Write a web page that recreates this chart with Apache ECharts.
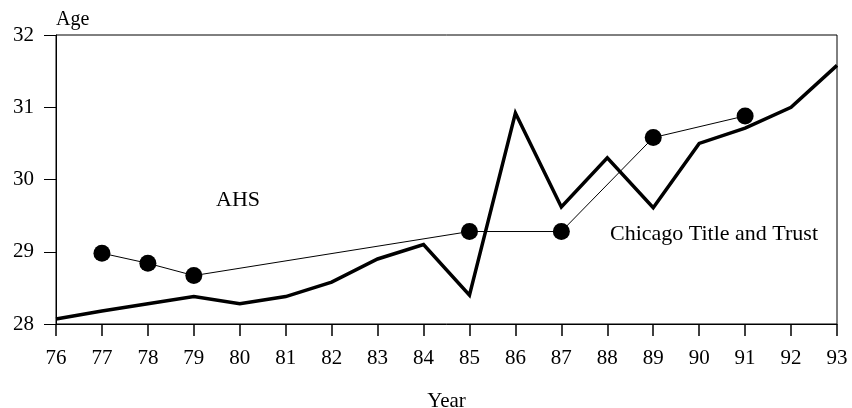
<!DOCTYPE html>
<html>
<head>
<meta charset="utf-8">
<script src="https://cdn.jsdelivr.net/npm/echarts@6/dist/echarts.min.js"></script>
<style>
  html, body { margin: 0; padding: 0; background: #fff; }
  #container1 { width: 852px; height: 408px; }
</style>
</head>
<body>
<div id="container1"></div>
<script>
// Chicago Title and Trust (annual, thick line)
var ctYears = [76, 77, 78, 79, 80, 81, 82, 83, 84, 85, 86, 87, 88, 89, 90, 91, 92, 93];
var ctAges = [28.07, 28.18, 28.28, 28.38, 28.28, 28.38, 28.58, 28.9, 29.1, 28.4, 30.92, 29.62, 30.3, 29.61, 30.5, 30.71, 31.0, 31.58];

// AHS (survey years, dots)
var ahsYears = [77, 78, 79, 85, 87, 89, 91];
var ahsAges = [28.98, 28.84, 28.67, 29.28, 29.28, 30.58, 30.88];

var yTicks = [28, 29, 30, 31, 32];

function pairs(xs, ys) {
    return xs.map(function (x, i) { return [x, ys[i]]; });
}

var serif = '"Liberation Serif", "DejaVu Serif", serif';

var dom = document.getElementById("container1");
var myChart = echarts.init(dom);
var option = {
    animation: false,
    backgroundColor: '#fff',
    textStyle: { fontFamily: serif, color: '#000' },
    grid: {
        left: 56,
        right: 15,
        top: 35,
        bottom: 84,
        outerBoundsMode: 'none',
        containLabel: false,
        show: true,
        borderColor: '#000',
        borderWidth: 1
    },
    xAxis: {
        type: 'value',
        min: 76,
        max: 93,
        interval: 1,
        name: 'Year',
        nameLocation: 'middle',
        nameGap: 67,
        nameTextStyle: { fontFamily: serif, fontSize: 21, color: '#000' },
        axisLine: { show: true, lineStyle: { color: '#000', width: 1 } },
        axisTick: { show: true, inside: false, length: 12, lineStyle: { color: '#000', width: 1.5 } },
        axisLabel: { margin: 24, fontFamily: serif, fontSize: 21, color: '#000' },
        splitLine: { show: false }
    },
    yAxis: {
        type: 'value',
        min: yTicks[0],
        max: yTicks[yTicks.length - 1],
        interval: 1,
        name: 'Age',
        nameLocation: 'end',
        nameGap: 5,
        nameTextStyle: { fontFamily: serif, fontSize: 20, color: '#000', align: 'left' },
        axisLine: { show: true, lineStyle: { color: '#000', width: 1 } },
        axisTick: { show: true, inside: false, length: 12, lineStyle: { color: '#000', width: 1 } },
        axisLabel: { margin: 22, fontFamily: serif, fontSize: 21, color: '#000' },
        splitLine: { show: false }
    },
    graphic: [
        {
            type: 'text',
            left: 216,
            top: 189,
            style: { text: 'AHS', font: '22px ' + serif, fill: '#000' }
        },
        {
            type: 'text',
            left: 610,
            top: 223,
            style: { text: 'Chicago Title and Trust', font: '22px ' + serif, fill: '#000' }
        }
    ],
    series: [
        {
            name: 'Chicago Title and Trust',
            type: 'line',
            data: pairs(ctYears, ctAges),
            showSymbol: false,
            symbol: 'none',
            lineStyle: { color: '#000', width: 3.5, join: 'miter' },
            z: 3
        },
        {
            name: 'AHS',
            type: 'line',
            data: pairs(ahsYears, ahsAges),
            symbol: 'circle',
            symbolSize: 17,
            itemStyle: { color: '#000' },
            lineStyle: { color: '#000', width: 1 },
            z: 4
        }
    ]
};
myChart.setOption(option, true);
</script>
</body>
</html>
